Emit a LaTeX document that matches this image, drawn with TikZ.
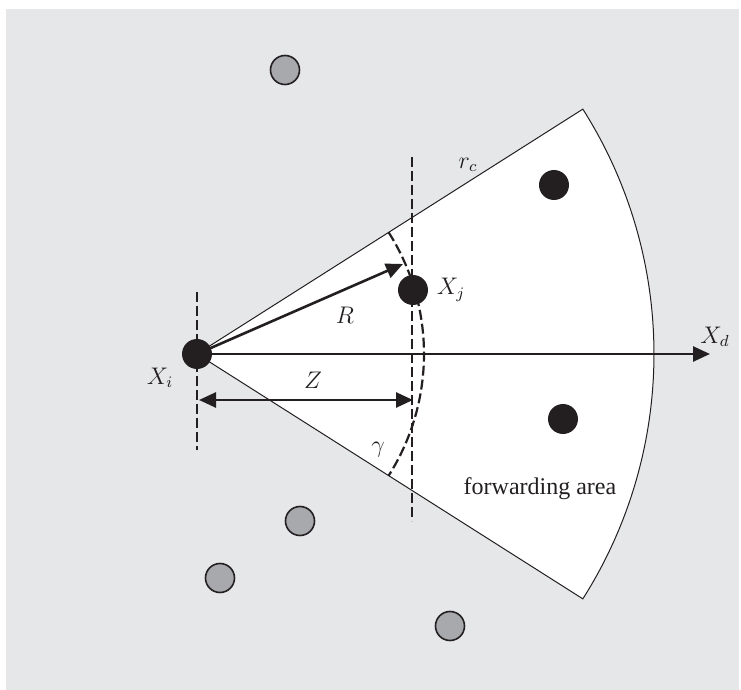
\documentclass[tikz,border=0pt]{standalone}
\usepackage{fontspec}
\newfontfamily\tnr{Liberation Serif}
\usetikzlibrary{arrows.meta}
\definecolor{bggray}{HTML}{E6E7E9}
\definecolor{nodegray}{HTML}{A8A9AC}
\definecolor{ink}{HTML}{231F20}
\begin{document}
\begin{tikzpicture}[x=0.5pt,y=-0.5pt,
  blacknode/.style={circle,fill=ink,minimum size=15pt,inner sep=0pt},
  graynode/.style={circle,fill=nodegray,draw=ink,line width=0.8pt,minimum size=14.5pt,inner sep=0pt},
  thin edge/.style={draw=ink,line width=0.5pt},
  tip/.style={},
  thick arrow/.style={draw=ink,line width=1.3pt,-{Triangle[length=8.5pt,width=7.5pt]}},
  dashline/.style={draw=ink,line width=1.1pt,dash pattern=on 5pt off 2pt},
  lbl/.style={inner sep=0pt,text=ink,font=\large}]
\useasboundingbox (0,0) rectangle (741,690);
\fill[bggray] (6,9) rectangle (739,690);
% sector
\coordinate (Xi) at (197,354);
\filldraw[fill=white,thin edge] (Xi) -- ++(-32.4:457) arc[start angle=-32.4,end angle=32.4,radius=457] -- cycle;
% dashed lines
\coordinate (vt1) at (197,292);
\coordinate (vb1) at (197,450);
\coordinate (vt2) at (412,157);
\coordinate (vb2) at (412,521);
\draw[dashline] (vt1) -- (vb1);
\draw[dashline] (vt2) -- (vb2);
\draw[dashline] (Xi) ++(-32.4:227) arc[start angle=-32.4,end angle=32.4,radius=227];
% arrows
\coordinate (Rtip) at (403,264);
\coordinate (Xdtip) at (710,354);
\coordinate (Zl) at (199,400);
\coordinate (Zr) at (413,400);
\draw[thick arrow] (Xi) -- (Rtip);
\draw[thick arrow] (Xi) -- (Xdtip);
\draw[draw=ink,line width=1.3pt,{Triangle[length=8.5pt,width=7.5pt]}-{Triangle[length=8.5pt,width=7.5pt]}] (Zl) -- (Zr);
% nodes
\node[blacknode] (ni) at (Xi) {};
\node[blacknode] (nj) at (413,290) {};
\node[blacknode] (n1) at (554,185) {};
\node[blacknode] (n2) at (563,419) {};
\node[graynode] (g1) at (285,70) {};
\node[graynode] (g2) at (300,521) {};
\node[graynode] (g3) at (220,578) {};
\node[graynode] (g4) at (450,626) {};
% labels
\node[lbl] (lXi) at (160,378) {$X_i$};
\node[lbl] (lXj) at (451,290) {$X_j$};
\node[lbl] (lXd) at (715,337) {$X_d$};
\node[lbl] (lR) at (345,315) {$R$};
\node[lbl] (lZ) at (313,380) {$Z$};
\node[lbl] (lg) at (378,450) {$\gamma$};
\node[lbl] (lrc) at (468,165) {$r_c$};
\node[inner sep=0pt,text=ink] (lfa) at (540,489) {\tnr\fontsize{12pt}{14pt}\selectfont forwarding area};
\end{tikzpicture}
\end{document}
